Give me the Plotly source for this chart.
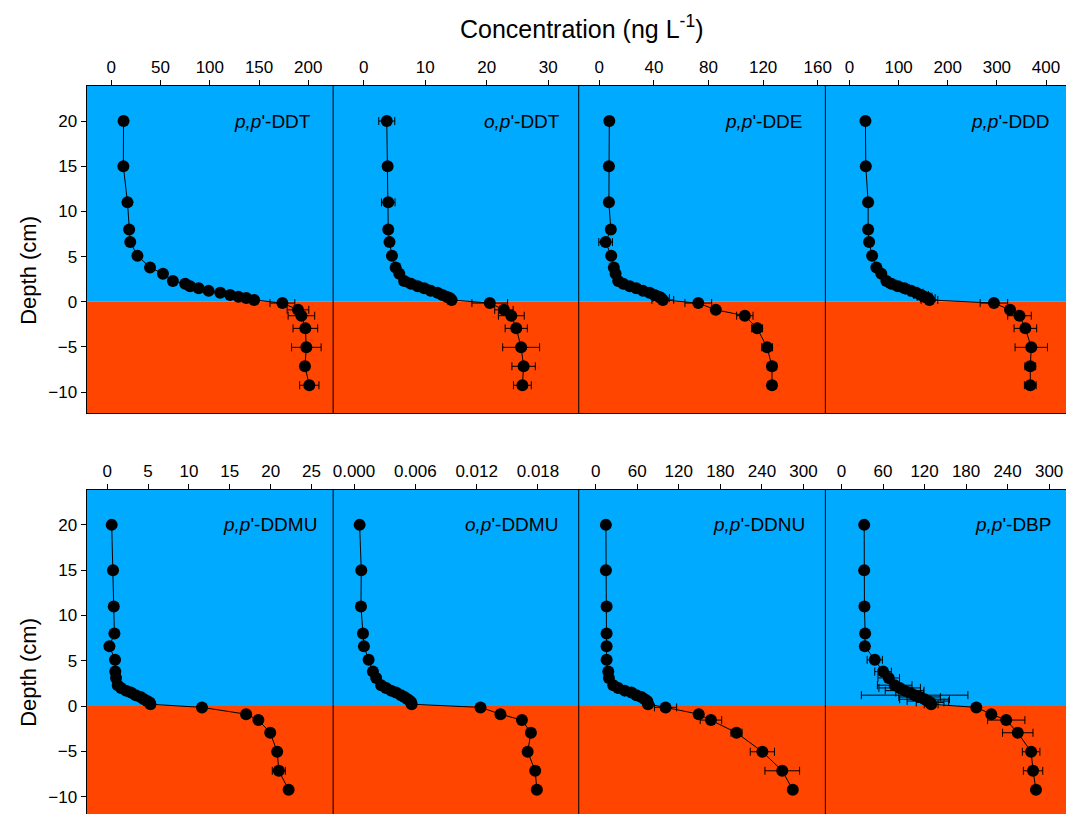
import plotly.graph_objects as go

# ---------------- data ----------------
depth = [20, 15, 11, 8, 6.6, 5.1, 3.8, 3.1, 2.3, 2.0, 1.7, 1.5, 1.2, 1.0, 0.75, 0.55, 0.4, 0.2,
         -0.15, -0.9, -1.55, -2.95, -5.05, -7.15, -9.25]

names = ["<i>p,p</i>'-DDT", "<i>o,p</i>'-DDT", "<i>p,p</i>'-DDE", "<i>p,p</i>'-DDD",
         "<i>p,p</i>'-DDMU", "<i>o,p</i>'-DDMU", "<i>p,p</i>'-DDNU", "<i>p,p</i>'-DBP"]

pp_ddt = [12.4, 12.2, 16.4, 18.1, 19.2, 26.5, 39.3, 52.4, 62.5, 75, 80, 88.7, 98.8, 110.6, 120.6, 129, 137, 145,
          173.7, 189.5, 193, 197, 198, 196.6, 201]
pp_ddt_err = [1, 1, 1, 1, 1, 1, 1, 1, 1, 1, 1, 1, 1, 1, 1, 1, 1, 1,
              12.6, 11, 13.5, 12.5, 15, 3, 9.8]

op_ddt = [3.76, 3.9, 4.0, 4.0, 4.2, 4.6, 5.2, 5.8, 6.6, 7.7, 8.8, 9.85, 10.9, 12.0, 12.8, 13.5, 14.0, 14.3,
          20.5, 22.8, 24.0, 24.8, 25.6, 26.0, 25.8]
op_ddt_err = [1.3, 0.3, 1.1, 0.3, 0.3, 0.5, 0.6, 0.6, 0.8, 0.8, 0.6, 0.8, 0.6, 0.6, 0.5, 0.4, 0.4, 0.4,
              2.9, 1.5, 2.1, 1.8, 3.0, 1.9, 1.45]

pp_dde = [7.3, 7.0, 7.0, 8.4, 4.6, 8.7, 10.6, 11.9, 13.8, 17.5, 22.3, 27.1, 32, 36.8, 40.5, 43.6, 45.3, 46.5,
          72.5, 85.3, 106.6, 115.6, 122.9, 126.5, 126.5]
pp_dde_err = [0.5, 0.5, 0.5, 0.5, 5, 0.5, 0.5, 0.5, 1, 1, 1, 1, 1, 1, 2, 3, 6, 8,
              9.8, 1, 6, 4, 4, 3.4, 3]

pp_ddd = [32.4, 33.1, 37.9, 37.9, 39.9, 46, 54.7, 64.8, 75, 85, 98.6, 112, 125.5, 135.6, 145.7, 152.6, 159.3, 162.7,
          294, 326.7, 346, 358, 370, 368, 368]
pp_ddd_err = [1, 1, 1, 1, 1, 1, 2, 5, 8, 10, 10, 10, 12, 14, 15, 15, 15, 17,
              28, 5, 24, 23, 33, 11, 12]

pp_ddmu = [0.56, 0.72, 0.81, 0.89, 0.28, 0.97, 1.0, 1.09, 1.3, 1.7, 2.3, 2.9, 3.5, 4.1, 4.5, 4.9, 5.2, 5.3,
           11.6, 17.0, 18.5, 19.95, 20.8, 21.0, 22.2]
pp_ddmu_err = [0.05, 0.05, 0.05, 0.05, 0.2, 0.05, 0.05, 0.05, 0.05, 0.05, 0.05, 0.05, 0.05, 0.05, 0.1, 0.1, 0.2, 0.4,
               0.1, 0.1, 0.1, 0.1, 0.1, 0.8, 0.1]

op_ddmu = [0.00055, 0.00071, 0.00068, 0.00088, 0.00097, 0.00143, 0.00185, 0.00217, 0.00266, 0.00314, 0.00363,
           0.00411, 0.0046, 0.00493, 0.00525, 0.00548, 0.0056, 0.00564,
           0.01238, 0.01433, 0.01643, 0.01731, 0.01699, 0.01773, 0.01789]
op_ddmu_err = [0.00002] * 25

pp_ddnu = [14.8, 14.8, 15.8, 15.8, 15.8, 15.8, 18.2, 19.1, 25.4, 32.5, 42, 51.6, 58.8, 66, 70.8, 74.2, 75, 75.6,
           100.9, 148.8, 166.4, 203.3, 240.6, 269.3, 284.5]
pp_ddnu_err = [1, 1, 1, 1, 1, 1, 2, 2, 3, 3, 3, 3, 3, 3, 3, 3, 3, 3,
               16, 2, 15.5, 8, 17.5, 25, 2]

pp_dbp = [32.7, 32.7, 33.1, 34.1, 33.7, 48, 60, 68.2, 76.8, 84, 91.2, 98.4, 105.6, 112.8, 120, 124.8, 128, 129.5,
          194.8, 216.4, 238, 254.7, 274, 276.8, 281]
pp_dbp_err = [0.5, 1, 3, 3, 0.5, 11, 12, 15.6, 25, 30, 28, 20, 77, 30, 36, 30, 20, 10,
              3, 3, 27, 22, 12.7, 14, 3]

series = [pp_ddt, op_ddt, pp_dde, pp_ddd, pp_ddmu, op_ddmu, pp_ddnu, pp_dbp]
errors = [pp_ddt_err, op_ddt_err, pp_dde_err, pp_ddd_err, pp_ddmu_err, op_ddmu_err, pp_ddnu_err, pp_dbp_err]

tickvals = [[0, 50, 100, 150, 200], [0, 10, 20, 30], [0, 40, 80, 120, 160], [0, 100, 200, 300, 400],
            [0, 5, 10, 15, 20, 25], [0, 0.006, 0.012, 0.018], [0, 60, 120, 180, 240, 300],
            [0, 60, 120, 180, 240, 300]]
ticktext = [None, None, None, None, None, ["0.000", "0.006", "0.012", "0.018"], None, None]
depth_ticks = [-10, -5, 0, 5, 10, 15, 20]

# ---------------- layout geometry ----------------
W, H = 1072, 814
xedges = [87 / W, 335 / W, 582 / W, 830 / W, 1.0]
xranges = [[-25.2, 225.2], [-4.96, 34.96], [-15.1, 165.6], [-49.2, 440.7],
           [-2.52, 27.64], [-0.002043, 0.02199], [-24.4, 331.5], [-23.4, 324.4]]
ydom_top = [1 - 413 / H, 1 - 86 / H]
ydom_bot = [0, 1 - 490 / H]
yr_top = [-12.32, 23.88]
yr_bot = [-11.92, 23.85]
label_shift = [-20, -17, -20, -14, -14, -19, -18, -13]

BLUE = "#00AAFF"
RED = "#FF4500"
FONT = "Liberation Sans, Arial, sans-serif"

fig = go.Figure()
for i, (vals, errs) in enumerate(zip(series, errors)):
    xa = "x" if i == 0 else f"x{i + 1}"
    ya = "y" if i < 4 else "y2"
    fig.add_trace(go.Scatter(
        x=vals, y=depth, xaxis=xa, yaxis=ya, mode="lines+markers",
        line=dict(color="black", width=1),
        marker=dict(color="black", size=12),
        error_x=dict(type="data", array=errs, visible=True, color="black", thickness=1, width=4),
        showlegend=False, cliponaxis=False,
    ))

layout = dict(
    width=W, height=H, margin=dict(l=0, r=0, t=0, b=0),
    paper_bgcolor="white", plot_bgcolor="rgba(0,0,0,0)",
    font=dict(family=FONT, size=17, color="black"),
    showlegend=False,
)

for i in range(8):
    key = "xaxis" if i == 0 else f"xaxis{i + 1}"
    col = i % 4
    ax = dict(
        domain=[xedges[col], xedges[col + 1]], range=xranges[i], side="top",
        anchor="y" if i < 4 else "y2",
        tickmode="array", tickvals=tickvals[i],
        ticks="outside", ticklen=5, tickcolor="black", tickwidth=1,
        showline=True, linecolor="black", linewidth=1, mirror=(i < 4),
        showgrid=False, zeroline=False,
        tickfont=dict(family=FONT, size=17, color="black"),
    )
    if ticktext[i] is not None:
        ax["ticktext"] = ticktext[i]
    layout[key] = ax

for key, dom, rng, anc in [("yaxis", ydom_top, yr_top, "x"), ("yaxis2", ydom_bot, yr_bot, "x5")]:
    layout[key] = dict(
        domain=dom, range=rng, anchor=anc,
        tickmode="array", tickvals=depth_ticks,
        ticks="outside", ticklen=5, tickcolor="black",
        showline=True, linecolor="black", linewidth=1,
        showgrid=False, zeroline=False,
        tickfont=dict(family=FONT, size=17, color="black"),
    )

fig.update_layout(**layout)

shapes = []
for yref, rng, dom in [("y", yr_top, ydom_top), ("y2", yr_bot, ydom_bot)]:
    shapes.append(dict(type="rect", xref="paper", x0=xedges[0], x1=1, yref=yref, y0=0, y1=rng[1],
                       fillcolor=BLUE, line=dict(width=0), layer="below"))
    shapes.append(dict(type="rect", xref="paper", x0=xedges[0], x1=1, yref=yref, y0=rng[0], y1=0,
                       fillcolor=RED, line=dict(width=0), layer="below"))
    for xe in xedges[1:4]:
        shapes.append(dict(type="line", xref="paper", x0=xe, x1=xe, yref="paper", y0=dom[0], y1=dom[1],
                           line=dict(color="black", width=1), layer="above"))
fig.update_layout(shapes=shapes)

annotations = [dict(text="Concentration (ng L<sup>-1</sup>)", xref="paper", yref="paper",
                    x=585 / W, y=1 - 27 / H, xanchor="center", yanchor="middle", showarrow=False,
                    font=dict(family=FONT, size=25, color="black"))]
for ycen in (270, 672):
    annotations.append(dict(text="Depth (cm)", xref="paper", yref="paper", x=28 / W, y=1 - ycen / H,
                            xanchor="center", yanchor="middle", textangle=-90, showarrow=False,
                            font=dict(family=FONT, size=22, color="black")))
for i, nm in enumerate(names):
    xa = "x" if i == 0 else f"x{i + 1}"
    annotations.append(dict(text=nm, xref=f"{xa} domain", x=1, xanchor="right", xshift=label_shift[i],
                            yref="y" if i < 4 else "y2", y=20, yanchor="middle", showarrow=False,
                            font=dict(family=FONT, size=19, color="black")))
fig.update_layout(annotations=annotations)

fig.write_html("out.html", config={"displayModeBar": False},
               post_script="document.body.style.margin='0px';document.body.style.overflow='hidden';")
